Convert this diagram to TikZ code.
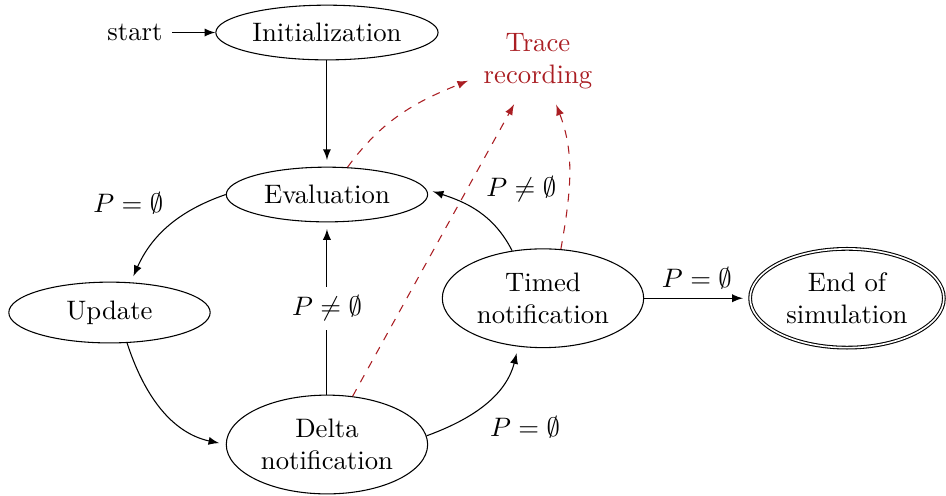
\documentclass[tikz,border=0pt]{standalone}
\usetikzlibrary{arrows.meta,shapes.geometric}
\definecolor{tracered}{RGB}{170,30,35}
\begin{document}
\begin{tikzpicture}[st/.style={draw, ellipse, minimum width=2.65cm, minimum height=0.72cm, inner sep=1.5pt, align=center}, ar/.style={-latex, shorten >=2.5pt}, tr/.style={draw=tracered, dashed, -latex, shorten >=2.5pt}]
\useasboundingbox (0,0) rectangle (12.45,6.515);
\node(start) at(1.777, 6.087){start};
\node[st](init) at(4.303, 6.087){Initialization};
\node[st](eval) at(4.303, 3.955){Evaluation};
\node[st, minimum height=0.8cm](upd) at(1.441, 2.402){Update};
\node[st, minimum height=1.3cm](delta) at(4.303, 0.665){Delta\\notification};
\node[st, minimum height=1.3cm](timed) at(7.146, 2.59){Timed\\notification};
\node[st, double, minimum width=2.55cm, minimum height=1.3cm](eos) at(11.147, 2.59){End of\\simulation};
\node[text=tracered, align=center](trace) at(7.08, 5.71){Trace\\recording};
\draw[-latex](start)--(init);
\draw[ar](init)--(eval);
\draw[ar](eval.west) to[out=199, in=66] node[pos=0.45, above left]{$P=\emptyset$} (upd.55);
\draw[ar](upd.-60) to[out=288, in=168] (delta.west);
\draw[ar](delta)--node[fill=white]{$P\neq\emptyset$}(eval);
\draw[ar](delta.5) to[out=20, in=256] node[pos=0.45, below right]{$P=\emptyset$} (timed.243);
\draw[ar](timed.123) to[out=117, in=342] node[pos=0.5, above right]{$P\neq\emptyset$} (eval.3);
\draw[ar](timed)--node[above]{$P=\emptyset$}(eos);
\draw[tr](eval.53) to[out=54, in=202] (trace.195);
\draw[tr](delta.62)--(trace.241);
\draw[tr](timed.70) to[out=80, in=291] (trace.-67);
\end{tikzpicture}
\end{document}
